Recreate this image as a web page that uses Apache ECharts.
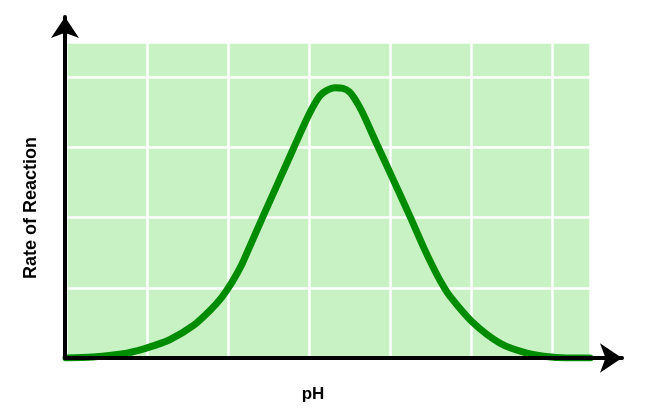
<!DOCTYPE html>
<html>
<head>
<meta charset="utf-8">
<script src="https://cdn.jsdelivr.net/npm/echarts@6/dist/echarts.min.js"></script>
<style>
html,body{margin:0;padding:0;background:#fff;}
#chart{width:661px;height:417px;}
</style>
</head>
<body>
<div id="chart"></div>
<script>
// Data (pH in grid units, rate in grid units)
const phValues   = [0, 0.33, 0.75, 0.99, 1.28, 1.57, 1.78, 1.92, 2.05, 2.17, 2.27, 2.43, 2.64, 2.83, 2.98, 3.07, 3.14, 3.22, 3.32, 3.42, 3.50, 3.56, 3.65, 3.84, 4.04, 4.25, 4.41, 4.53, 4.64, 4.74, 5.01, 5.36, 5.69, 5.99, 6.26, 6.47];
const rateValues = [0, 0.014, 0.07, 0.14, 0.26, 0.46, 0.68, 0.86, 1.08, 1.33, 1.59, 2.01, 2.55, 3.04, 3.42, 3.62, 3.74, 3.81, 3.85, 3.84, 3.79, 3.70, 3.52, 3.04, 2.54, 2.01, 1.59, 1.30, 1.06, 0.88, 0.52, 0.21, 0.07, 0.014, 0, 0];
const xAxisTitle = 'pH';
const yAxisTitle = 'Rate of Reaction';

const seriesData = phValues.map((x, i) => [x, rateValues[i]]);

const chart = echarts.init(document.getElementById('chart'), null, {renderer: 'canvas'});
const FONT = '"Liberation Sans", Arial, sans-serif';
chart.setOption({
  animation: false,
  backgroundColor: '#ffffff',
  grid: [
    {left: 66, top: 42, width: 524, height: 316, show: true, backgroundColor: '#c8f2c4', borderWidth: 0},
    {left: 65, top: 17, width: 557, height: 341, show: false}
  ],
  xAxis: [
    {gridIndex: 0, type: 'value', min: 0, max: 6.47, interval: 1,
     axisLine: {show: false}, axisTick: {show: false}, axisLabel: {show: false},
     splitLine: {show: true, lineStyle: {color: '#ffffff', width: 2.5}}},
    {gridIndex: 1, type: 'value', min: 0, max: 1, z: 5,
     axisLine: {show: true, symbol: ['none', 'arrow'], symbolSize: [22, 22],
                lineStyle: {color: '#000000', width: 4}},
     axisTick: {show: false}, axisLabel: {show: false}, splitLine: {show: false}}
  ],
  yAxis: [
    {gridIndex: 0, type: 'value', min: 0, max: 4.5, interval: 1,
     axisLine: {show: false}, axisTick: {show: false}, axisLabel: {show: false},
     splitLine: {show: true, lineStyle: {color: '#ffffff', width: 2.5}}},
    {gridIndex: 1, type: 'value', min: 0, max: 1, z: 5,
     axisLine: {show: true, symbol: ['none', 'arrow'], symbolSize: [21, 21],
                lineStyle: {color: '#000000', width: 4}},
     axisTick: {show: false}, axisLabel: {show: false}, splitLine: {show: false}}
  ],
  graphic: [
    {type: 'text', x: 313, y: 394, z: 10,
     style: {text: xAxisTitle, font: 'bold 17px ' + FONT, fill: '#000', textAlign: 'center', textVerticalAlign: 'middle'}},
    {type: 'text', x: 31, y: 208, rotation: Math.PI / 2, z: 10,
     style: {text: yAxisTitle, font: 'bold 18px ' + FONT, fill: '#000', textAlign: 'center', textVerticalAlign: 'middle'}}
  ],
  series: [{
    type: 'line',
    xAxisIndex: 0, yAxisIndex: 0,
    data: seriesData,
    smooth: 0.3,
    showSymbol: false,
    symbol: 'none',
    lineStyle: {color: '#008c00', width: 7, cap: 'round', join: 'round'},
    z: 3
  }]
});
</script>
</body>
</html>
